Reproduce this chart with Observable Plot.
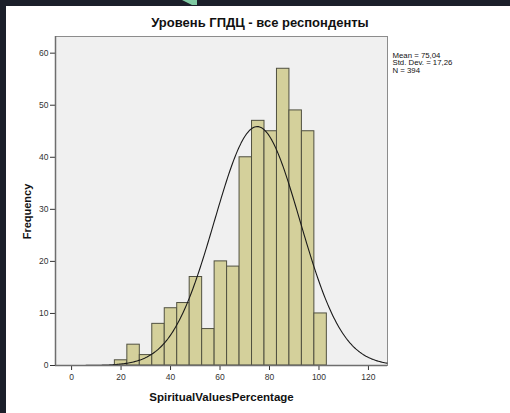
<!DOCTYPE html>
<html>
<head>
<meta charset="utf-8">
<script src="https://cdn.jsdelivr.net/npm/d3@7"></script>
<script src="https://cdn.jsdelivr.net/npm/@observablehq/plot@0.6"></script>
<style>
  html, body { margin: 0; padding: 0; }
  body { width: 510px; height: 413px; background: #1b1f2a; position: relative; overflow: hidden; font-family: Arial, "Liberation Sans", sans-serif; }
  #paper { position: absolute; left: 6px; top: 6px; right: 0; bottom: 0; background: #ffffff; }
  #accent { position: absolute; left: 0; top: 0; }
  #chart { position: absolute; left: 0; top: 0; }
  #title { position: absolute; left: 0; width: 520px; top: 15px; text-align: center; font-weight: bold; font-size: 13px; color: #111; }
</style>
</head>
<body>
<div id="paper"></div>
<svg id="accent" width="510" height="10"><polygon points="182,0 197,0 197,5 192,5" fill="#7fcaa3"/></svg>
<div id="title">Уровень ГПДЦ - все респонденты</div>
<div id="chart"></div>
<script>
// ---- data ----
const binEdges = [17.5, 22.54, 27.58, 32.62, 37.66, 42.7, 47.74, 52.78, 57.82, 62.86,
                  67.9, 72.94, 77.98, 83.02, 88.06, 93.1, 98.14, 103.18];
const counts = [1, 4, 2, 8, 11, 12, 17, 7, 20, 19, 40, 47, 45, 57, 49, 45, 10];
const xTicks = [0, 20, 40, 60, 80, 100, 120];
const yTicks = [0, 10, 20, 30, 40, 50, 60];
const statLines = ["Mean = 75,04", "Std. Dev. = 17,26", "N = 394"];
const meanVal = 75.04;
const sdVal = 17.26;
const nVal = 394;

const bars = counts.map((c, i) => ({x1: binEdges[i], x2: binEdges[i + 1], y: c}));
const binW = binEdges[1] - binEdges[0];
// normal curve fitted from the stated Mean / Std. Dev. / N
const curve = d3.range(-6.5, 127.75, 0.5).map(x => ({
  x,
  y: nVal * binW / (sdVal * Math.sqrt(2 * Math.PI)) * Math.exp(-0.5 * ((x - meanVal) / sdVal) ** 2)
}));

const chart = Plot.plot({
  width: 510,
  height: 413,
  marginLeft: 55,
  marginRight: 123,
  marginTop: 36,
  marginBottom: 48,
  style: {background: "transparent", fontFamily: "Arial, 'Liberation Sans', sans-serif", fontSize: "8.5px", color: "#333"},
  x: {domain: [-6.5, 127.7], ticks: xTicks, tickSize: 5, tickPadding: 3, label: null},
  y: {domain: [0, 63.2], ticks: yTicks, tickSize: 5, tickPadding: 2, label: null},
  marks: [
    Plot.frame({fill: "#f0f0f0", stroke: "#8c8c8c", strokeWidth: 1}),
    Plot.rectY(bars, {x1: "x1", x2: "x2", y: "y", fill: "#d4d09b", stroke: "#505040", strokeWidth: 1}),
    Plot.line(curve, {x: "x", y: "y", stroke: "#1a1a1a", strokeWidth: 1.1, curve: "linear"}),
    Plot.axisX({ticks: xTicks, tickSize: 5, tickPadding: 3, stroke: "#333", fill: "#333", label: null}),
    Plot.axisY({ticks: yTicks, tickSize: 5, tickPadding: 2, stroke: "#333", fill: "#333", label: null}),
    Plot.ruleX([-6.5], {stroke: "#6e6e6e", strokeWidth: 1.5}),
    Plot.ruleY([0], {stroke: "#6e6e6e", strokeWidth: 1.5}),
    Plot.text(["SpiritualValuesPercentage"], {frameAnchor: "bottom", lineAnchor: "middle", dy: 32, fontWeight: "bold", fontSize: 11.5, fill: "#111"}),
    Plot.text(["Frequency"], {frameAnchor: "left", textAnchor: "middle", lineAnchor: "middle", rotate: -90, dx: -28, dy: 10.5, fontWeight: "bold", fontSize: 11, fill: "#111"}),
    Plot.text([statLines.join("\n")], {frameAnchor: "top-right", textAnchor: "start", lineAnchor: "top", dx: 5, dy: 15.5, fontSize: 7.8, lineHeight: 1.0, fill: "#111"})
  ]
});
document.getElementById("chart").appendChild(chart);
</script>
</body>
</html>
